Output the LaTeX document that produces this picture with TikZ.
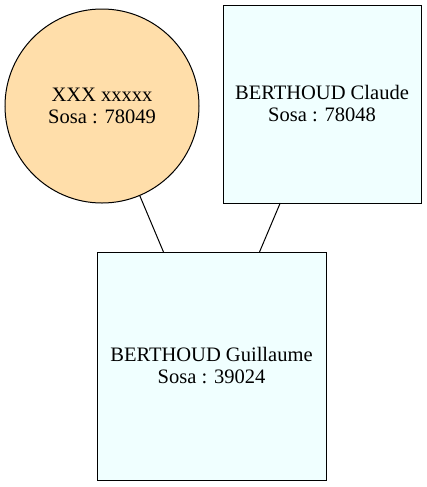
\documentclass[tikz,border=0pt]{standalone}
\usepackage{fontspec}
\setmainfont{Liberation Serif}
\definecolor{circfill}{HTML}{FFDEAA}
\definecolor{boxfill}{HTML}{F0FFFF}
\tikzset{
  person/.style={draw=black, line width=0.75pt, align=center, inner sep=0pt, outer sep=0pt,
    font=\fontsize{15.4pt}{16.5pt}\selectfont},
  link/.style={draw=black, line width=0.75pt},
}
\begin{document}
\begin{tikzpicture}[x=0.75pt,y=-0.75pt]
\useasboundingbox (0,0) rectangle (427,487);
\node[person, circle, fill=circfill, minimum size=145.5pt] (mother) at (102,106) {XXX xxxxx\\Sosa : 78049};
\node[person, rectangle, fill=boxfill, minimum width=148.5pt, minimum height=148.5pt] (father) at (322,104) {BERTHOUD Claude\\Sosa : 78048};
\node[person, rectangle, fill=boxfill, minimum width=171.75pt, minimum height=171pt] (child) at (211.5,366) {BERTHOUD Guillaume\\Sosa : 39024};
\draw[link] (mother) -- (child);
\draw[link] (father) -- (child);
\end{tikzpicture}
\end{document}
